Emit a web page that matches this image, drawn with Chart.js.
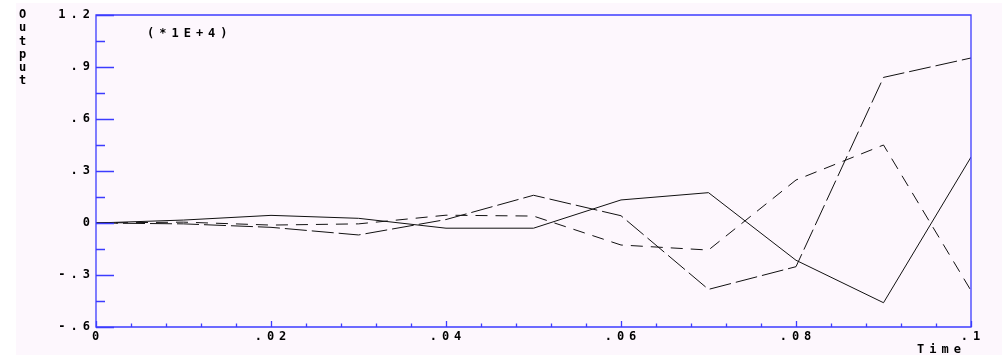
<!DOCTYPE html>
<html>
<head>
<meta charset="utf-8">
<script src="https://cdn.jsdelivr.net/npm/chart.js@4/dist/chart.umd.min.js"></script>
<style>
  html, body { margin: 0; padding: 0; background: #ffffff; }
  #c { display: block; }
</style>
</head>
<body>
<canvas id="c" width="1002" height="355"></canvas>
<script>
// Sample times (s)
const times = [0, 0.01, 0.02, 0.03, 0.04, 0.05, 0.06, 0.07, 0.08, 0.09, 0.1];

// Outputs, in units of 1E+4
const outputSolid    = [0, 0.017, 0.044, 0.027, -0.03, -0.03, 0.133, 0.175, -0.215, -0.46, 0.38];
const outputLongDash = [0, -0.005, -0.025, -0.069, 0.02, 0.16, 0.042, -0.383, -0.252, 0.84, 0.952];
const outputDash     = [0, 0.005, -0.012, -0.005, 0.045, 0.04, -0.127, -0.156, 0.248, 0.45, -0.39];

// Axis ticks and their labels
const xTicks = [0, 0.02, 0.04, 0.06, 0.08, 0.1];
const xTickLabels = ['0', '.02', '.04', '.06', '.08', '.1'];
const yTicks = [-0.6, -0.3, 0, 0.3, 0.6, 0.9, 1.2];
const yTickLabels = ['-.6', '-.3', '0', '.3', '.6', '.9', '1.2'];

const AXIS_BLUE = '#3c3cff';
const BG = '#fdf7fd';
const TEXT = '#000000';
const LABEL_FONT = "bold 12px 'DejaVu Sans Mono'";
const SPACING = '5px';

function toPoints(ys) {
  return times.map((t, i) => ({ x: t, y: ys[i] }));
}

// Background, boxed frame, inward tick marks and the plain text labels
const framePlugin = {
  id: 'frame',
  beforeDraw(chart) {
    const ctx = chart.ctx;
    ctx.save();
    ctx.fillStyle = BG;
    ctx.fillRect(0, 0, chart.width, chart.height);
    ctx.fillStyle = '#ffffff';
    ctx.fillRect(0, 0, 16, chart.height);
    ctx.fillRect(0, 0, chart.width, 3);
    ctx.restore();
    ctx.letterSpacing = SPACING;
  },
  afterDraw(chart) {
    const ctx = chart.ctx;
    const a = chart.chartArea;
    const xs = chart.scales.x;
    const ys = chart.scales.y;
    ctx.save();
    ctx.strokeStyle = AXIS_BLUE;
    ctx.lineWidth = 1.3;

    // box
    ctx.beginPath();
    ctx.rect(a.left, a.top, a.right - a.left, a.bottom - a.top);
    ctx.stroke();

    ctx.beginPath();
    // y ticks: long at labelled values, short halfway between
    for (let i = 0; i < yTicks.length; i++) {
      const py = Math.round(ys.getPixelForValue(yTicks[i])) + 0.5;
      ctx.moveTo(a.left, py); ctx.lineTo(a.left + 18, py);
      if (i < yTicks.length - 1) {
        const pm = Math.round(ys.getPixelForValue((yTicks[i] + yTicks[i + 1]) / 2)) + 0.5;
        ctx.moveTo(a.left, pm); ctx.lineTo(a.left + 9, pm);
      }
    }
    // x ticks: long at labelled values, four short ones between
    for (let i = 0; i < xTicks.length; i++) {
      const px = Math.round(xs.getPixelForValue(xTicks[i])) + 0.5;
      ctx.moveTo(px, a.bottom); ctx.lineTo(px, a.bottom - 6);
      if (i < xTicks.length - 1) {
        for (let k = 1; k < 5; k++) {
          const v = xTicks[i] + (xTicks[i + 1] - xTicks[i]) * k / 5;
          const pm = Math.round(xs.getPixelForValue(v)) + 0.5;
          ctx.moveTo(pm, a.bottom); ctx.lineTo(pm, a.bottom - 3.5);
        }
      }
    }
    ctx.stroke();

    // text
    ctx.fillStyle = TEXT;
    ctx.font = LABEL_FONT;
    ctx.letterSpacing = SPACING;
    ctx.textBaseline = 'middle';
    ctx.textAlign = 'left';
    ctx.fillText('(*1E+4)', 147, 34);
    ctx.fillText('Time', 917, 350);

    ctx.letterSpacing = '0px';
    ctx.textAlign = 'center';
    const word = 'Output';
    for (let i = 0; i < word.length; i++) {
      ctx.fillText(word[i], 22.5, 15 + i * 13.2);
    }
    ctx.restore();
    ctx.letterSpacing = '0px';
  }
};

new Chart(document.getElementById('c'), {
  type: 'line',
  data: {
    datasets: [
      {
        label: 'solid',
        data: toPoints(outputSolid),
        borderColor: '#111111',
        borderWidth: 1,
        pointRadius: 0,
        tension: 0
      },
      {
        label: 'long dash',
        data: toPoints(outputLongDash),
        borderColor: '#111111',
        borderWidth: 1,
        borderDash: [22, 5],
        pointRadius: 0,
        tension: 0
      },
      {
        label: 'dash',
        data: toPoints(outputDash),
        borderColor: '#111111',
        borderWidth: 1,
        borderDash: [12, 8],
        pointRadius: 0,
        tension: 0
      }
    ]
  },
  options: {
    responsive: false,
    devicePixelRatio: 1,
    animation: false,
    events: [],
    layout: { padding: { left: 0, top: 15, right: 31, bottom: 0 } },
    plugins: {
      legend: { display: false },
      title: { display: false },
      tooltip: { enabled: false }
    },
    scales: {
      x: {
        type: 'linear',
        min: 0,
        max: 0.1,
        afterFit(scale) { scale.height = 28; },
        afterBuildTicks(scale) { scale.ticks = xTicks.map(v => ({ value: v })); },
        grid: { display: false, drawTicks: false },
        border: { display: false },
        ticks: {
          autoSkip: false,
          maxRotation: 0,
          padding: 3,
          labelOffset: 2,
          color: TEXT,
          font: { family: 'DejaVu Sans Mono', weight: 'bold', size: 12 },
          callback: (v, i) => xTickLabels[i]
        }
      },
      y: {
        type: 'linear',
        min: -0.6,
        max: 1.2,
        afterFit(scale) { scale.width = 96; },
        afterBuildTicks(scale) { scale.ticks = yTicks.map(v => ({ value: v })); },
        grid: { display: false, drawTicks: false },
        border: { display: false },
        ticks: {
          autoSkip: false,
          padding: 1,
          color: TEXT,
          font: { family: 'DejaVu Sans Mono', weight: 'bold', size: 12 },
          callback: (v, i) => yTickLabels[i]
        }
      }
    }
  },
  plugins: [framePlugin]
});
</script>
</body>
</html>
